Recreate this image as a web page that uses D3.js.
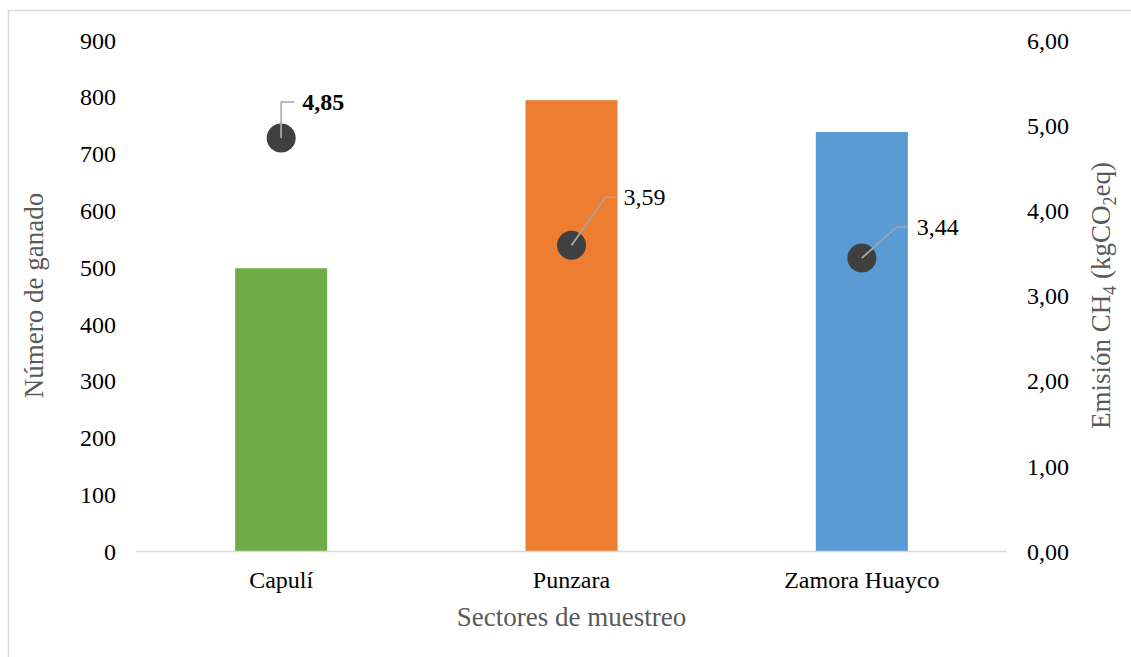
<!DOCTYPE html>
<html>
<head>
<meta charset="utf-8">
<script src="https://cdn.jsdelivr.net/npm/d3@7"></script>
<style>
  html, body { margin: 0; padding: 0; background: #fff; }
  svg { display: block; font-family: "Liberation Serif", "Times New Roman", serif; }
</style>
</head>
<body>
<svg id="chart" width="1131" height="657"></svg>
<script>
// ---- data ----
const categories = ["Capulí", "Punzara", "Zamora Huayco"];
const cattle = [498, 794, 738];            // Número de ganado (bars, left axis)
const emissions = [4.85, 3.59, 3.44];      // Emisión CH4 (points, right axis)
const emissionLabels = ["4,85", "3,59", "3,44"];
const leftTicks = [0, 100, 200, 300, 400, 500, 600, 700, 800, 900];
const rightTicks = [0, 1, 2, 3, 4, 5, 6];
const barColors = ["#70ad47", "#ed7d31", "#5b9bd5"];

// ---- layout ----
const W = 1131, H = 657;
const plot = { left: 136, right: 1007, top: 40, bottom: 551 };
// label leader geometry relative to point (elbow dx, elbow dy, end dx, text dx, bold)
const labelLayout = [
  { ex: 0, ey: -36, hx: 13, tx: 21, bold: true },
  { ex: 34, ey: -48, hx: 45, tx: 52, bold: false },
  { ex: 35, ey: -31, hx: 46, tx: 55, bold: false }
];

const svg = d3.select("#chart");

// outer border
svg.append("rect")
  .attr("x", 8.5).attr("y", 10.5)
  .attr("width", W + 10).attr("height", H + 10)
  .attr("fill", "none").attr("stroke", "#d9d9d9").attr("stroke-width", 1.5);

const x = d3.scaleBand().domain(categories).range([plot.left, plot.right]).paddingInner(0.683).paddingOuter(0.3415);
const yL = d3.scaleLinear().domain([0, 900]).range([plot.bottom, plot.top]);
const yR = d3.scaleLinear().domain([0, 6]).range([plot.bottom, plot.top]);

// bars
svg.append("g").selectAll("rect")
  .data(categories)
  .join("rect")
  .attr("x", d => x(d))
  .attr("width", x.bandwidth())
  .attr("y", (d, i) => yL(cattle[i]))
  .attr("height", (d, i) => yL(0) - yL(cattle[i]))
  .attr("fill", (d, i) => barColors[i]);

// baseline
svg.append("line")
  .attr("x1", plot.left).attr("x2", plot.right)
  .attr("y1", plot.bottom + 0.5).attr("y2", plot.bottom + 0.5)
  .attr("stroke", "#d9d9d9").attr("stroke-width", 1.5);

// left axis
const gL = svg.append("g").attr("transform", `translate(${plot.left - 20},0)`)
  .call(d3.axisLeft(yL).tickValues(leftTicks).tickSize(0).tickPadding(0).tickFormat(d3.format("d")));
gL.select(".domain").remove();
gL.selectAll("text").attr("font-family", "Liberation Serif").attr("font-size", 24).attr("fill", "#000").attr("dy", "0.34em");

// right axis
const fmtR = d => d3.format(".2f")(d).replace(".", ",");
const gR = svg.append("g").attr("transform", `translate(1027,0)`)
  .call(d3.axisRight(yR).tickValues(rightTicks).tickSize(0).tickPadding(0).tickFormat(fmtR));
gR.select(".domain").remove();
gR.selectAll("text").attr("font-family", "Liberation Serif").attr("font-size", 24).attr("fill", "#000").attr("dy", "0.34em");

// bottom axis (category labels)
const gB = svg.append("g").attr("transform", `translate(0,${plot.bottom})`)
  .call(d3.axisBottom(x).tickSize(0).tickPadding(0));
gB.select(".domain").remove();
gB.selectAll("text").attr("font-family", "Liberation Serif").attr("font-size", 24).attr("fill", "#000").attr("dy", "1.55em");

// axis titles
svg.append("text")
  .attr("x", (plot.left + plot.right) / 2).attr("y", 626)
  .attr("text-anchor", "middle").attr("font-size", 27).attr("fill", "#595959")
  .text("Sectores de muestreo");

svg.append("text")
  .attr("transform", `translate(43,${(plot.top + plot.bottom) / 2}) rotate(-90)`)
  .attr("text-anchor", "middle").attr("font-size", 27).attr("fill", "#595959")
  .text("Número de ganado");

const rt = svg.append("text")
  .attr("transform", `translate(1110,${(plot.top + plot.bottom) / 2}) rotate(-90)`)
  .attr("text-anchor", "middle").attr("font-size", 27).attr("fill", "#595959");
rt.append("tspan").text("Emisión CH");
rt.append("tspan").attr("font-size", 18).attr("dy", 6).text("4");
rt.append("tspan").attr("dy", -6).text(" (kgCO");
rt.append("tspan").attr("font-size", 18).attr("dy", 6).text("2");
rt.append("tspan").attr("dy", -6).text("eq)");

// leader lines + labels
const cx = d => x(d) + x.bandwidth() / 2;
const lab = svg.append("g");
categories.forEach((c, i) => {
  const px = cx(c), py = yR(emissions[i]);
  const L = labelLayout[i];
  lab.append("polyline")
    .attr("points", `${px},${py} ${px + L.ex},${py + L.ey} ${px + L.hx},${py + L.ey}`)
    .attr("fill", "none").attr("stroke", "#a6a6a6").attr("stroke-width", 1.5);
  lab.append("text")
    .attr("x", px + L.tx).attr("y", py + L.ey)
    .attr("dy", "0.34em")
    .attr("font-size", 24).attr("fill", "#000")
    .attr("font-weight", L.bold ? "bold" : "normal")
    .text(emissionLabels[i]);
});

// points
svg.append("g").selectAll("circle")
  .data(categories)
  .join("circle")
  .attr("cx", d => cx(d))
  .attr("cy", (d, i) => yR(emissions[i]))
  .attr("r", 14.5)
  .attr("fill", "#404040");

// redraw the start of the leader lines above dots
categories.forEach((c, i) => {
  const px = cx(c), py = yR(emissions[i]);
  const L = labelLayout[i];
  const len = Math.hypot(L.ex, L.ey);
  lab.append("line")
    .attr("x1", px).attr("y1", py)
    .attr("x2", px + L.ex * 16 / len).attr("y2", py + L.ey * 16 / len)
    .attr("stroke", "#a6a6a6").attr("stroke-width", 1.5);
});
svg.node().appendChild(lab.node());
</script>
</body>
</html>
